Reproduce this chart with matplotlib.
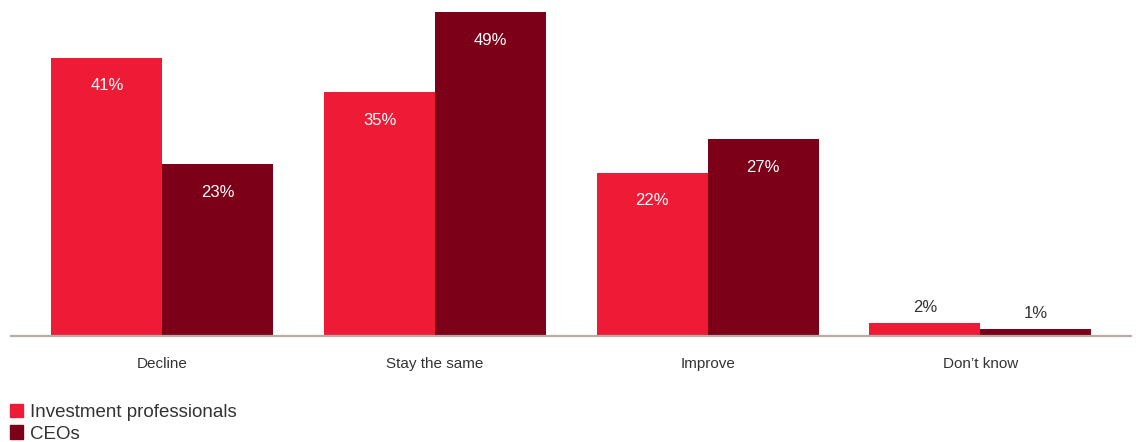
import numpy as np
import matplotlib.pyplot as plt
from matplotlib.patches import Patch

categories = ["Decline", "Stay the same", "Improve", "Don\u2019t know"]
series_names = ["Investment professionals", "CEOs"]
# printed percentages
ip_labels = [41, 35, 22, 2]
ceo_labels = [23, 49, 27, 1]
# bar heights as drawn in the original (not exactly proportional to the labels)
ip_heights = [42.1, 36.9, 24.7, 2.0]
ceo_heights = [26.0, 49.0, 29.8, 1.1]

RED = "#ED1B35"
DARK = "#7D0019"

plt.rcParams['font.family'] = ['Liberation Sans', 'DejaVu Sans']

fig = plt.figure(figsize=(11.36, 4.42), dpi=100)
ax = fig.add_axes([11 / 1136, 106 / 442, 1120 / 1136, 330.5 / 442])

x = np.arange(len(categories))
w = 0.407
bars_ip = ax.bar(x - w / 2, ip_heights, w, color=RED)
bars_ceo = ax.bar(x + w / 2, ceo_heights, w, color=DARK)

ax.set_xlim(-0.555, 3.552)
ax.set_ylim(0, 50)

# value labels: inside for tall bars, above for the tiny ones
for bars, labels in ((bars_ip, ip_labels), (bars_ceo, ceo_labels)):
    for b, lab in zip(bars, labels):
        h = b.get_height()
        cx = b.get_x() + b.get_width() / 2
        if h > 5:
            ax.annotate(f"{lab}%", (cx, h), xytext=(0, -28), textcoords="offset pixels",
                        ha="center", va="center", color="white", fontsize=12)
        else:
            ax.annotate(f"{lab}%", (cx, h), xytext=(0, 15), textcoords="offset pixels",
                        ha="center", va="center", color="#333333", fontsize=12)

ax.set_xticks(x)
ax.set_xticklabels(categories, fontsize=11, color="#333333")
ax.tick_params(axis="x", length=0, pad=15)
ax.set_yticks([])
for s in ("top", "right", "left"):
    ax.spines[s].set_visible(False)
ax.spines["bottom"].set_color("#B8ACA6")
ax.spines["bottom"].set_linewidth(1.6)

handles = [Patch(color=RED), Patch(color=DARK)]
fig.legend(handles, series_names, loc="upper left", bbox_to_anchor=(4 / 1136, 1 - 398 / 442),
           frameon=False, fontsize=13.5, handlelength=0.7, handleheight=0.7,
           handletextpad=0.4, labelspacing=0.25, borderaxespad=0, borderpad=0.3,
           labelcolor="#333333")

fig.savefig("out.png", dpi=100)
